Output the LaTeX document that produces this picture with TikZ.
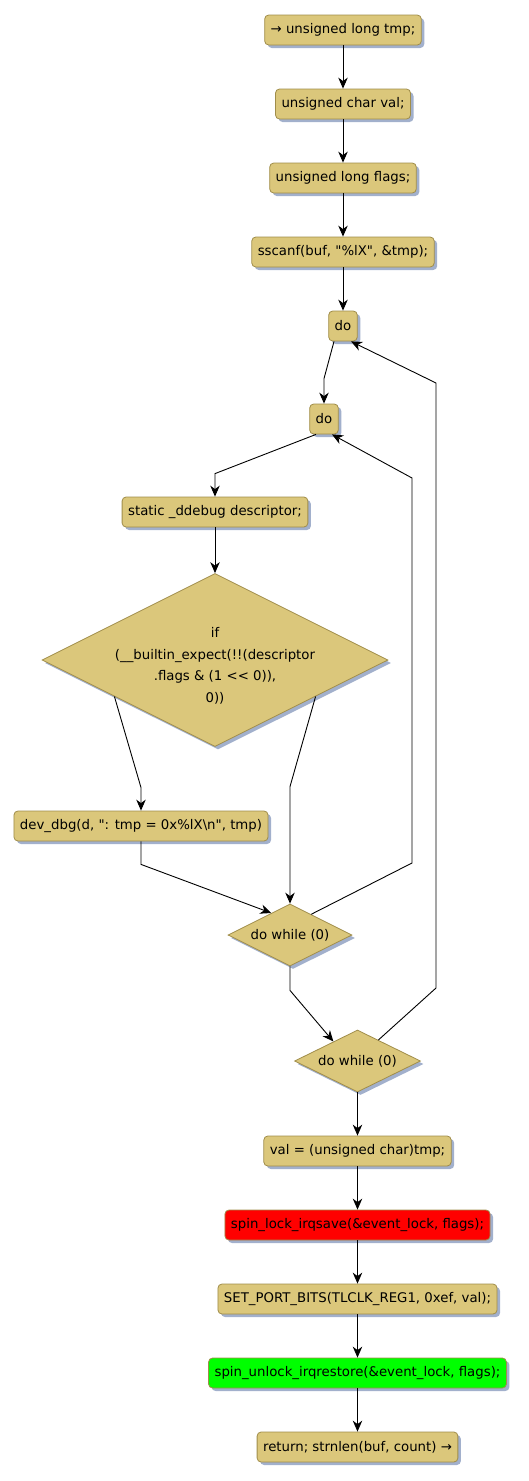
\documentclass[tikz,border=0pt]{standalone}
\usepackage{fontspec}
\setmainfont{DejaVu Sans}[Ligatures=TeXOff]
\usepackage{tikz}
\usetikzlibrary{arrows.meta,calc,shapes.geometric,shadows}
\definecolor{cbox}{HTML}{DBC77B}
\definecolor{cedge}{HTML}{A08D4A}
\definecolor{cshadow}{HTML}{A2B0CC}
\definecolor{cred}{HTML}{FF0000}
\definecolor{cgreen}{HTML}{00FF00}
\definecolor{ink}{HTML}{000000}

\begin{document}
\begin{tikzpicture}[x=1pt,y=-1pt,
  every node/.style={font=\fontsize{13.3}{21.5}\selectfont,text=ink},
  shade/.style={drop shadow={shadow xshift=3pt,shadow yshift=-3pt,fill=cshadow,opacity=1}},
  stmt/.style={rectangle,rounded corners=4pt,draw=cedge,line width=0.8pt,minimum height=30pt,inner xsep=6pt,shade},
  test/.style={diamond,aspect=2,draw=cedge,line width=0.8pt,fill=cbox,inner sep=0pt,shade},
  flow/.style={draw=ink,line width=0.9pt,-{Stealth[length=11pt,width=9.5pt,inset=3.5pt]}}]
  \useasboundingbox (0,0) rectangle (529,1481);
  % straight statements
  \foreach \nm/\xx/\yy/\fc/\txt in {
    top/343/30/cbox/{→ unsigned long tmp;},
    valdecl/343/104/cbox/{unsigned char val;},
    flagsdecl/343/178/cbox/{unsigned long flags;},
    scan/343/252/cbox/{sscanf(buf, "\%lX", \&tmp);},
    outerdo/343/326/cbox/{do},
    innerdo/324/419/cbox/{do},
    descr/215/512/cbox/{static \_ddebug descriptor;},
    dbg/141/826/cbox/{dev\_dbg(d, ": tmp = 0x\%lX\textbackslash n", tmp)},
    setval/357.5/1151/cbox/{val = (unsigned char)tmp;},
    lock/357.5/1225/cred/{spin\_lock\_irqsave(\&event\_lock, flags);},
    setbits/357.5/1299/cbox/{SET\_PORT\_BITS(TLCLK\_REG1, 0xef, val);},
    unlock/357.5/1373/cgreen/{spin\_unlock\_irqrestore(\&event\_lock, flags);},
    ret/357.5/1447/cbox/{return; strnlen(buf, count) →}
  } \node[stmt,fill=\fc] (\nm) at (\xx,\yy) {\txt};
  % tests
  \node[test,minimum width=346pt,minimum height=173pt] (cond) at (215,660) {};
  \node[align=center] (condtext) at (215,666) {if\\(\_\_builtin\_expect(!!(descriptor\\.flags \& (1 << 0)),\\0))};
  \node[test,minimum width=124pt,minimum height=62pt] (innerwhile) at (290,935) {do while (0)};
  \node[test,minimum width=126pt,minimum height=62pt] (outerwhile) at (357.5,1061) {do while (0)};
  % connectors
  \foreach \a/\b in {top/valdecl,valdecl/flagsdecl,flagsdecl/scan,scan/outerdo,descr/cond,
                     outerwhile/setval,setval/lock,lock/setbits,setbits/unlock,unlock/ret}
    \draw[flow] (\a) -- (\b);
  \draw[flow] ([xshift=-9pt]outerdo.south) -- ([yshift=25pt]innerdo.north) -- (innerdo.north);
  \draw[flow] ([xshift=-8pt]innerdo.south) -- ([yshift=23pt]descr.north) -- (descr.north);
  \draw[flow] ($(cond.west)!0.42!(cond.south)$) -- ([yshift=23pt]dbg.north) -- (dbg.north);
  \draw[flow] ($(cond.east)!0.42!(cond.south)$) -- ([yshift=117pt]innerwhile.north) -- (innerwhile.north);
  \draw[flow] (dbg.south) -- ([yshift=-23pt]dbg.south) -- ($(innerwhile.west)!0.7!(innerwhile.north)$);
  \draw[flow] (innerwhile.south) -- ([yshift=-24pt]innerwhile.south) -- ($(outerwhile.west)!0.62!(outerwhile.north)$);
  % loop back edges
  \draw[flow] ($(innerwhile.north)!0.34!(innerwhile.east)$) -- (412,863) -- (412,478) -- ([xshift=8pt]innerdo.south);
  \draw[flow] ($(outerwhile.north)!0.33!(outerwhile.east)$) -- (436,988) -- (436,383) -- ([xshift=8pt]outerdo.south);
\end{tikzpicture}
\end{document}
